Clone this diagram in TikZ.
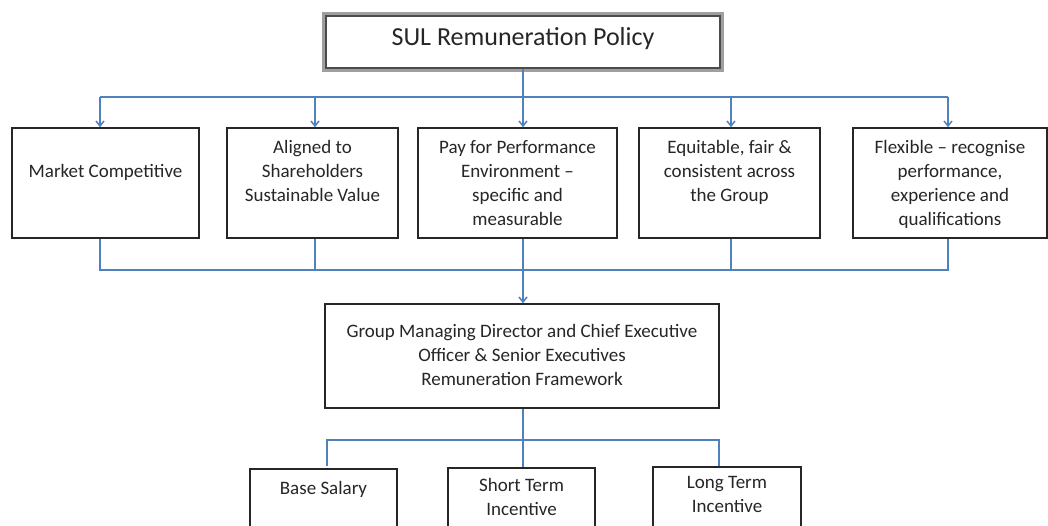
\documentclass[tikz,border=0pt]{standalone}
\usepackage{fontspec}
\setmainfont{Carlito}
\usetikzlibrary{arrows.meta,calc}
\definecolor{linkblue}{HTML}{4F81BD}
\definecolor{ink}{HTML}{262626}
\begin{document}
\begin{tikzpicture}[x=1pt,y=-1pt,
  box/.style={draw=ink,line width=1.6pt,fill=white,inner sep=0pt,rectangle},
  label/.style={text=ink,align=center,inner sep=0pt,anchor=north,font=\fontsize{19}{24}\selectfont},
  conn/.style={draw=linkblue,line width=1.5pt},
  arr/.style={-{Straight Barb[length=5pt,width=8pt]}}]
\useasboundingbox (0,0) rectangle (1048,526);
\clip (0,0) rectangle (1048,526);

% policy title with its framed border
\draw[gray!75,line width=3.4pt] (323.7,13.7) rectangle (722.3,70.3);
\node[draw=black!70,line width=1.4pt,inner sep=0pt,minimum width=394,minimum height=52] (top) at (523,42) {};
\node[label,font=\fontsize{26}{30}\selectfont] (topt) at (523,27.5) {SUL Remuneration Policy};

% principles
\node[box,minimum width=187,minimum height=110] (b1) at (105.5,183) {};
\node[box,minimum width=171,minimum height=110] (b2) at (312.5,183) {};
\node[box,minimum width=199,minimum height=110] (b3) at (517.5,183) {};
\node[box,minimum width=181,minimum height=110] (b4) at (729.5,183) {};
\node[box,minimum width=194,minimum height=110] (b5) at (950,183) {};
\node[label] (b1t) at (105.5,164) {Market Competitive};
\node[label] (b2t) at (312.5,140) {Aligned to\\Shareholders\\Sustainable Value};
\node[label] (b3t) at (517.5,140) {Pay for Performance\\Environment --\\specific and\\measurable};
\node[label] (b4t) at (729.5,140) {Equitable, fair \&\\consistent across\\the Group};
\node[label] (b5t) at (950,140) {Flexible -- recognise\\performance,\\experience and\\qualifications};

% framework
\node[box,minimum width=394,minimum height=104] (mid) at (522,356) {};
\node[label] (midt) at (522,324) {Group Managing Director and Chief Executive\\Officer \& Senior Executives\\Remuneration Framework};

% components
\node[box,minimum width=147,minimum height=100] (s1) at (323.5,519) {};
\node[box,minimum width=147,minimum height=100] (s2) at (521.5,518) {};
\node[box,minimum width=148,minimum height=100] (s3) at (727,517) {};
\node[label] (s1t) at (323.5,481) {Base Salary};
\node[label] (s2t) at (521.5,478) {Short Term\\Incentive};
\node[label] (s3t) at (727,476) {Long Term\\Incentive};

% upper distribution bus
\coordinate (u1) at (100,97);
\coordinate (u2) at (315,97);
\coordinate (u4) at (731,97);
\coordinate (u5) at (948,97);
\draw[conn] (u1) -- (u5);
\draw[conn,arr] (top.south) -- (top.south |- b3.north);
\draw[conn,arr] (u1) -- (u1 |- b1.north);
\draw[conn,arr] (u2) -- (u2 |- b2.north);
\draw[conn,arr] (u4) -- (u4 |- b4.north);
\draw[conn,arr] (u5) -- (u5 |- b5.north);

% lower collecting bus
\coordinate (l1) at (100,270);
\coordinate (l2) at (315,270);
\coordinate (l4) at (731,270);
\coordinate (l5) at (948,270);
\draw[conn] (l1 |- b1.south) -- (l1) -- (l5) -- (l5 |- b5.south);
\draw[conn] (l2 |- b2.south) -- (l2);
\draw[conn] (l4 |- b4.south) -- (l4);
\draw[conn,arr] (top.south |- b3.south) -- (top.south |- mid.north);

% component bus
\coordinate (c1) at (327,440);
\coordinate (c3) at (719,440);
\draw[conn] (top.south |- mid.south) -- (top.south |- s2.north);
\draw[conn] ($(c1 |- s1.north)+(0,-2)$) -- (c1) -- (c3) -- (c3 |- s3.north);
\end{tikzpicture}
\end{document}
